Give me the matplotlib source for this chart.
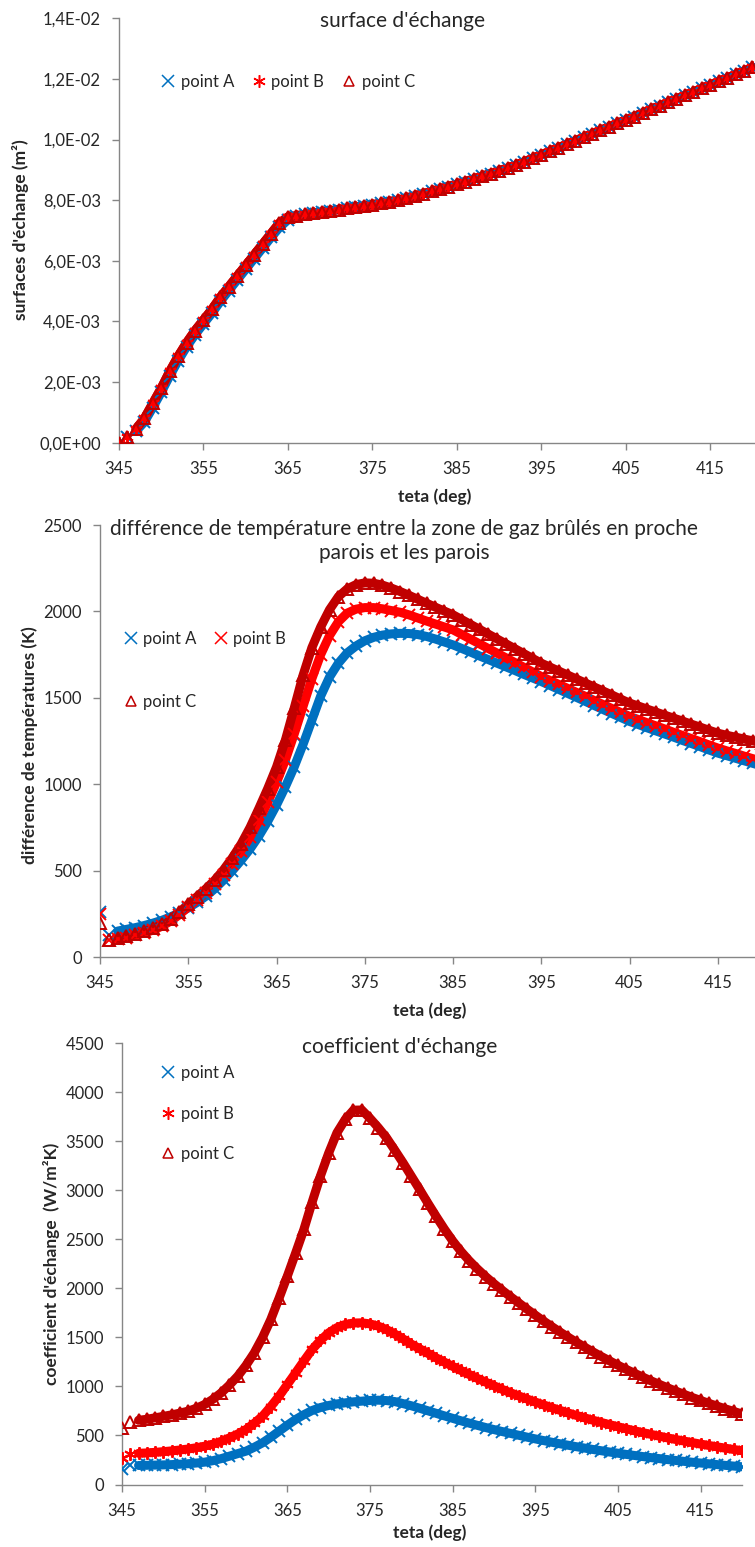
import numpy as np
import matplotlib.pyplot as plt
from matplotlib.lines import Line2D
from matplotlib.ticker import FuncFormatter

# figure size in pixels (dpi 100)
W, H = 755, 1547

# crank angle (deg), one value per degree
theta = list(range(345, 421))

# surface d'echange, in 1e-3 m2
surf_A = [0.00, 0.18, 0.38, 0.68, 1.16, 1.66, 2.20, 2.70, 3.16, 3.56,
          3.92, 4.27, 4.66, 5.02, 5.37, 5.72, 6.07, 6.42, 6.77, 7.10,
          7.35, 7.48, 7.53, 7.57, 7.61, 7.65, 7.69, 7.73, 7.77, 7.81,
          7.85, 7.90, 7.95, 8.00, 8.07, 8.14, 8.21, 8.29, 8.37, 8.45,
          8.53, 8.61, 8.70, 8.79, 8.88, 8.97, 9.06, 9.16, 9.27, 9.38,
          9.50, 9.61, 9.73, 9.84, 9.96, 10.07, 10.19, 10.30, 10.42, 10.53,
          10.65, 10.76, 10.88, 11.00, 11.11, 11.23, 11.34, 11.46, 11.57, 11.69,
          11.80, 11.92, 12.03, 12.15, 12.26, 12.38]
surf_B = [0.00, 0.20, 0.45, 0.80, 1.30, 1.80, 2.35, 2.85, 3.30, 3.70,
          4.05, 4.40, 4.80, 5.15, 5.50, 5.85, 6.20, 6.55, 6.90, 7.25,
          7.45, 7.49, 7.53, 7.57, 7.61, 7.65, 7.69, 7.73, 7.77, 7.81,
          7.85, 7.90, 7.95, 8.00, 8.07, 8.14, 8.21, 8.29, 8.37, 8.45,
          8.53, 8.61, 8.70, 8.79, 8.88, 8.97, 9.06, 9.16, 9.27, 9.38,
          9.50, 9.61, 9.73, 9.84, 9.96, 10.07, 10.19, 10.30, 10.42, 10.53,
          10.65, 10.76, 10.88, 11.00, 11.11, 11.23, 11.34, 11.46, 11.57, 11.69,
          11.80, 11.92, 12.03, 12.15, 12.26, 12.38]
surf_C = list(surf_B)  # C sits right on top of B

# difference de temperature (K)
temp_A = [260, 125, 150, 160, 170, 182, 196, 212, 232, 256,
          284, 316, 352, 395, 445, 500, 560, 625, 700, 785,
          880, 985, 1100, 1230, 1370, 1510, 1620, 1700, 1760, 1800,
          1830, 1850, 1863, 1870, 1873, 1872, 1866, 1855, 1840, 1823,
          1806, 1785, 1764, 1742, 1721, 1700, 1679, 1658, 1636, 1615,
          1594, 1571, 1548, 1525, 1502, 1479, 1455, 1432, 1409, 1386,
          1363, 1345, 1326, 1308, 1290, 1272, 1253, 1235, 1217, 1198,
          1180, 1165, 1150, 1135, 1120, 1105]
temp_B = [250, 100, 105, 112, 125, 140, 155, 178, 208, 245,
          290, 330, 372, 420, 475, 540, 612, 695, 790, 895,
          1010, 1140, 1290, 1450, 1610, 1750, 1860, 1940, 1990, 2013,
          2022, 2022, 2015, 2005, 1995, 1980, 1962, 1944, 1927, 1910,
          1893, 1866, 1839, 1812, 1785, 1758, 1731, 1704, 1677, 1650,
          1623, 1600, 1577, 1554, 1531, 1508, 1484, 1461, 1438, 1415,
          1392, 1374, 1355, 1337, 1319, 1300, 1282, 1264, 1246, 1227,
          1209, 1193, 1178, 1162, 1147, 1132]
temp_C = [195, 100, 108, 120, 135, 150, 165, 190, 220, 260,
          305, 350, 395, 445, 505, 575, 655, 750, 860, 975,
          1100, 1255, 1440, 1630, 1790, 1910, 2010, 2085, 2130, 2155,
          2165, 2163, 2152, 2135, 2115, 2093, 2070, 2047, 2024, 2002,
          1980, 1952, 1924, 1896, 1868, 1840, 1812, 1784, 1756, 1728,
          1700, 1677, 1654, 1631, 1608, 1585, 1562, 1539, 1516, 1492,
          1469, 1452, 1434, 1417, 1399, 1382, 1365, 1347, 1330, 1312,
          1295, 1283, 1272, 1261, 1250, 1239]

# coefficient d'echange (W/m2K)
coef_A = [153, 194, 194, 196, 198, 200, 203, 207, 212, 219,
          228, 243, 264, 289, 315, 340, 380, 425, 482, 544,
          605, 663, 712, 755, 785, 806, 822, 833, 843, 850,
          857, 860, 856, 846, 825, 803, 778, 752, 726, 700,
          675, 650, 626, 603, 581, 560, 540, 521, 502, 483,
          465, 448, 431, 415, 400, 385, 371, 357, 344, 331,
          319, 307, 296, 285, 274, 264, 254, 245, 236, 227,
          219, 211, 203, 195, 188, 181]
coef_B = [272, 316, 318, 322, 328, 335, 343, 352, 362, 375,
          391, 412, 440, 476, 515, 561, 625, 697, 795, 901,
          1020, 1139, 1260, 1377, 1470, 1547, 1600, 1632, 1647, 1649,
          1638, 1615, 1580, 1535, 1485, 1432, 1385, 1338, 1292, 1248,
          1205, 1163, 1122, 1082, 1044, 1007, 970, 936, 903, 872,
          841, 812, 783, 756, 729, 704, 679, 655, 632, 610,
          589, 568, 548, 529, 511, 493, 475, 459, 443, 427,
          412, 398, 384, 370, 357, 345]
coef_C = [578, 640, 655, 665, 680, 695, 710, 728, 748, 778,
          816, 870, 935, 1015, 1105, 1215, 1343, 1500, 1683, 1900,
          2125, 2360, 2601, 2880, 3145, 3380, 3587, 3723, 3818, 3820,
          3735, 3640, 3536, 3410, 3281, 3145, 3009, 2870, 2735, 2605,
          2485, 2378, 2283, 2198, 2120, 2048, 1980, 1915, 1852, 1788,
          1727, 1667, 1610, 1554, 1501, 1449, 1399, 1351, 1305, 1260,
          1216, 1174, 1134, 1095, 1057, 1021, 986, 952, 919, 887,
          857, 827, 799, 771, 745, 719]

labels = ["point A", "point B", "point C"]
x_ticks = list(range(345, 421, 10))

COL_A = '#0070C0'
COL_B = '#FF0000'
COL_C = '#C00000'
AXIS_GREY = '#868686'
TEXT = '#262626'

STAR = (6, 2, 0)  # excel "*" marker

plt.rcParams['font.family'] = ['Lato', 'DejaVu Sans']

fig = plt.figure(figsize=(W / 100, H / 100), dpi=100)


def box(left, top, right, bottom):
    # pixel box -> figure fraction
    return [left / W, 1 - bottom / H, (right - left) / W, (bottom - top) / H]


def fx(px):
    return px / W


def fy(py):
    return 1 - py / H


def style_axes(ax):
    for s in ['top', 'right']:
        ax.spines[s].set_visible(False)
    for s in ['left', 'bottom']:
        ax.spines[s].set_color(AXIS_GREY)
        ax.spines[s].set_linewidth(1.0)
    ax.tick_params(direction='out', length=5, width=1, color=AXIS_GREY,
                   labelcolor=TEXT, labelsize=12, pad=8)
    ax.set_xticks(x_ticks)


def draw_series(ax, y, color, marker, ms, hollow=False):
    # dense markers in excel look like a thick band
    ax.plot(theta[2:], y[2:], color=color, lw=6.5, solid_capstyle='round',
            solid_joinstyle='round', zorder=2)
    ax.plot(theta, y, ls='none', marker=marker, ms=ms, mew=1.4,
            mec=color, mfc='none' if hollow else color, zorder=3)


def handle(color, marker, ms, hollow=False):
    return Line2D([0], [0], ls='none', marker=marker, ms=ms, mew=1.1,
                  mec=color, mfc='none' if hollow else color)


def put_legend(ax, handles, names, ncol, x_px, y_px, labelspacing, colspacing):
    ax.legend(handles=handles, labels=names, loc='upper left',
              bbox_to_anchor=(fx(x_px), fy(y_px)), bbox_transform=fig.transFigure,
              ncol=ncol, frameon=False, borderpad=0, borderaxespad=0,
              handlelength=1.0, handletextpad=0.25, labelspacing=labelspacing,
              columnspacing=colspacing, fontsize=12, labelcolor=TEXT)


def put_labels(ax, ax_box, xlab, xlab_px, ylab, ylab_px):
    left, top, right, bottom = ax_box
    ax.set_xlabel(xlab, fontsize=12.5, fontweight='bold', color=TEXT)
    ax.xaxis.set_label_coords((xlab_px[0] - left) / (right - left),
                              (bottom - xlab_px[1]) / (bottom - top))
    ax.xaxis.label.set_va('center')
    ax.set_ylabel(ylab, fontsize=12.5, fontweight='bold', color=TEXT)
    ax.yaxis.set_label_coords((ylab_px[0] - left) / (right - left),
                              (bottom - ylab_px[1]) / (bottom - top))
    ax.yaxis.label.set_va('center')


# ---- panel 1 : surface d'echange
b1 = (119, 18.3, 755, 442.7)
ax1 = fig.add_axes(box(*b1))
style_axes(ax1)
draw_series(ax1, np.array(surf_A) * 1e-3, COL_A, 'x', 8)
draw_series(ax1, np.array(surf_B) * 1e-3, COL_B, STAR, 9)
draw_series(ax1, np.array(surf_C) * 1e-3, COL_C, '^', 8.5, hollow=True)
ax1.set_xlim(345, 420.3)
ax1.set_ylim(0, 0.014)
ax1.set_yticks(np.arange(0, 0.0141, 0.002))
ax1.yaxis.set_major_formatter(FuncFormatter(lambda v, p: f"{v:.1E}".replace('.', ',')))
put_labels(ax1, b1, "teta (deg)", (435, 497), "surfaces d'échange (m²)", (20, 230))
fig.text(fx(403), fy(21), "surface d'échange", ha='center', va='center',
         fontsize=15, color=TEXT)
put_legend(ax1,
           [handle(COL_A, 'x', 8), handle(COL_B, STAR, 9), handle(COL_C, '^', 7, True)],
           labels, 3, 168 - 8.3, 84 - 10, 0.5, 1.0)

# ---- panel 2 : difference de temperature
b2 = (100, 525, 755, 957)
ax2 = fig.add_axes(box(*b2))
style_axes(ax2)
draw_series(ax2, temp_A, COL_A, 'x', 8)
draw_series(ax2, temp_B, COL_B, 'x', 8)
draw_series(ax2, temp_C, COL_C, '^', 8.5, hollow=True)
ax2.set_xlim(345, 419.2)
ax2.set_ylim(0, 2500)
ax2.set_yticks(range(0, 2501, 500))
put_labels(ax2, b2, "teta (deg)", (430, 1011), "différence de températures (K)", (30, 745))
fig.text(fx(404), fy(541),
         "différence de température entre la zone de gaz brûlés en proche\nparois et les parois",
         ha='center', va='center', fontsize=15, color=TEXT, linespacing=1.3)
put_legend(ax2,
           [handle(COL_A, 'x', 8), handle(COL_C, '^', 7, True), handle(COL_B, 'x', 8)],
           [labels[0], labels[2], labels[1]], 2, 130.7 - 8.3, 641 - 10, 2.8, 0.95)

# ---- panel 3 : coefficient d'echange
b3 = (122, 1043.3, 742, 1484.5)
ax3 = fig.add_axes(box(*b3))
style_axes(ax3)
draw_series(ax3, coef_A, COL_A, 'x', 8)
draw_series(ax3, coef_B, COL_B, STAR, 9)
draw_series(ax3, coef_C, COL_C, '^', 8.5, hollow=True)
ax3.set_xlim(345, 420)
ax3.set_ylim(0, 4500)
ax3.set_yticks(range(0, 4501, 500))
put_labels(ax3, b3, "teta (deg)", (430, 1533), "coefficient d'échange  (W/m²K)", (52, 1264))
fig.text(fx(400), fy(1047), "coefficient d'échange", ha='center', va='center',
         fontsize=15, color=TEXT)
put_legend(ax3,
           [handle(COL_A, 'x', 8), handle(COL_B, STAR, 9), handle(COL_C, '^', 7, True)],
           labels, 1, 168 - 8.3, 1075 - 10, 1.47, 1.0)

fig.savefig("out.png", dpi=100)
